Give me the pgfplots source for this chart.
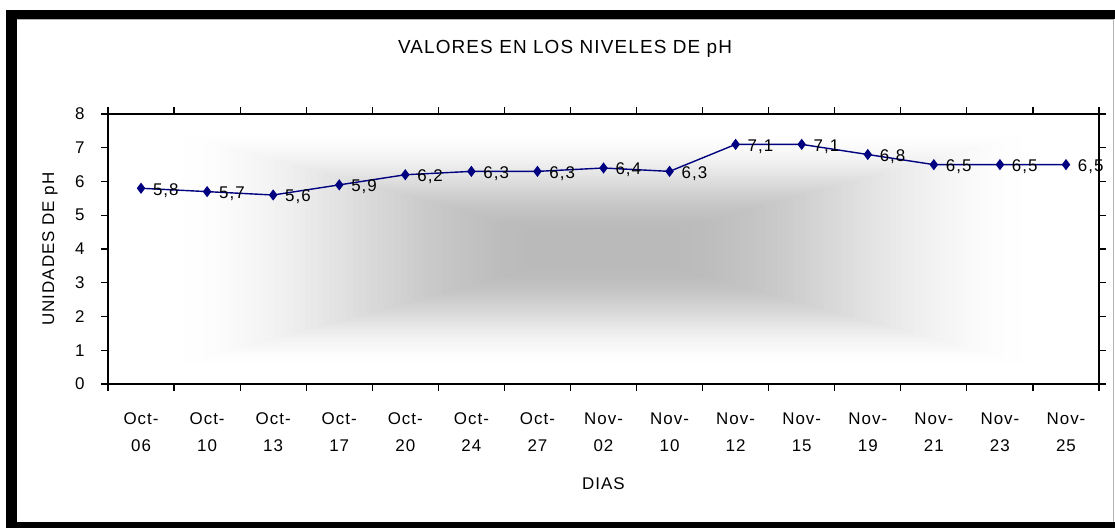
\documentclass[border=0pt]{standalone}
\usepackage{pgfplots}
\pgfplotsset{compat=1.18}
\usepackage{fontspec}
\setmainfont{Liberation Sans}[LetterSpace=6]
\definecolor{navyc}{RGB}{0,0,128}
\definecolor{bgc}{RGB}{186,186,186}
\pgfplotstableread{
x y lab
0 5.8 5,8
1 5.7 5,7
2 5.6 5,6
3 5.9 5,9
4 6.2 6,2
5 6.3 6,3
6 6.3 6,3
7 6.4 6,4
8 6.3 6,3
9 7.1 7,1
10 7.1 7,1
11 6.8 6,8
12 6.5 6,5
13 6.5 6,5
14 6.5 6,5
}\phdata
\begin{document}
\begin{tikzpicture}
\path[use as bounding box] (0bp,0bp) rectangle (1115bp,528bp);
\fill[black] (6bp,0bp) rectangle (1115bp,6bp);
\fill[black] (6bp,0bp) rectangle (17bp,518bp);
\fill[black] (6bp,509bp) rectangle (1115bp,518bp);
\draw[gray!60, line width=0.6bp] (17bp,509bp) -- (1113bp,509bp) -- (1113bp,6bp);
% background: rectangular "from centre" gradient of the plot area
\foreach \i in {1,...,64}{
  \pgfmathsetmacro\s{(\i-1)/63}
  \pgfmathsetmacro\t{0.12+0.76*\s}
  \pgfmathsetmacro\pct{100*(3*\s*\s-2*\s*\s*\s)}
  \pgfmathsetmacro\dx{\t*495.5}
  \pgfmathsetmacro\dy{\t*135}
  \fill[bgc!\pct!white] ({(108+\dx)*1bp},{(144+\dy)*1bp}) rectangle ({(1099-\dx)*1bp},{(414-\dy)*1bp});
}
\node[font=\fontsize{19}{22}\selectfont] at (565bp,479bp) {VALORES EN LOS NIVELES DE pH};
\begin{axis}[
  at={(108bp,144bp)}, anchor=south west, scale only axis,
  width=991bp, height=270bp,
  xmin=-0.5, xmax=14.5, ymin=0, ymax=8,
  ytick={0,...,8},
  xtick=data,
  xticklabels={{Oct-\\06},{Oct-\\10},{Oct-\\13},{Oct-\\17},{Oct-\\20},{Oct-\\24},{Oct-\\27},{Nov-\\02},{Nov-\\10},{Nov-\\12},{Nov-\\15},{Nov-\\19},{Nov-\\21},{Nov-\\23},{Nov-\\25}},
  minor xtick={-0.5,0.5,...,14.5},
  major x tick style={draw=none},
  tick align=outside,
  major tick length=7bp, minor tick length=7bp,
  tick style={black, line width=1.2bp},
  axis line style={black, line width=1.4bp},
  /pgf/number format/assume math mode=true,
  ticklabel style={font=\fontsize{17}{27}\selectfont},
  xticklabel style={align=center, anchor=north, yshift=-18bp},
  yticklabel style={xshift=-13bp},
  xlabel={DIAS}, ylabel={UNIDADES DE pH},
  every axis x label/.style={at={(axis description cs:0.5,-0.370)},anchor=center,font=\fontsize{17}{20}\selectfont},
  every axis y label/.style={at={(axis description cs:-0.0585,0.5)},rotate=90,anchor=center,font=\fontsize{17}{20}\selectfont},
  clip=false,
]
\addplot[navyc, line width=1.4bp, mark=diamond*, mark size=4.5bp, mark options={fill=navyc},
  nodes near coords, point meta=explicit symbolic,
  every node near coord/.style={anchor=west, xshift=8bp, yshift=-2bp, text=black, font=\fontsize{17}{20}\selectfont}]
  table[x=x, y=y, meta=lab] {\phdata};
\end{axis}
\end{tikzpicture}
\end{document}
